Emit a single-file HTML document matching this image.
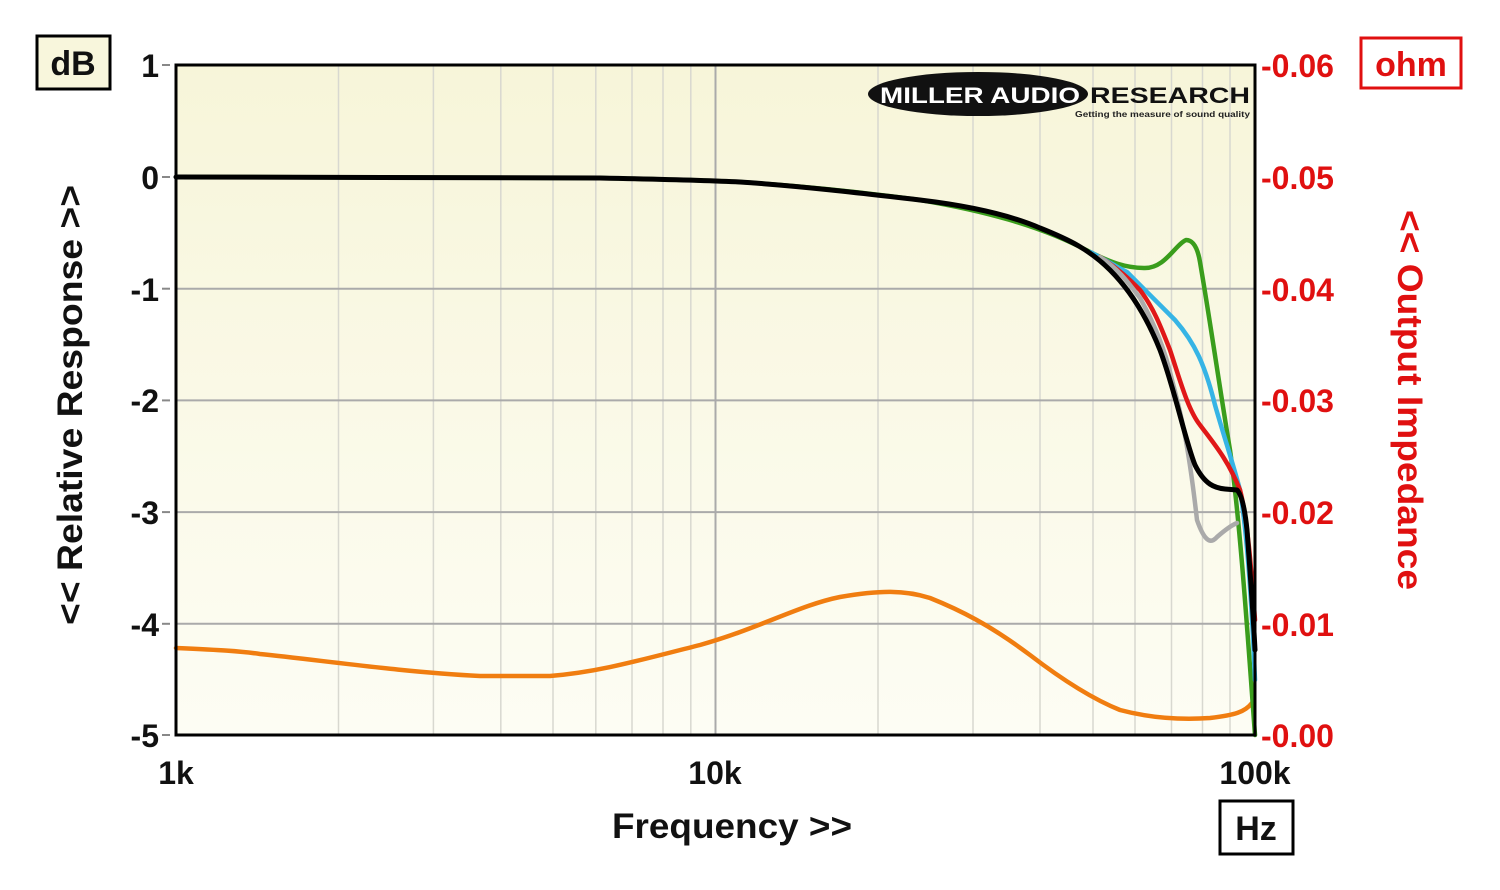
<!DOCTYPE html>
<html><head><meta charset="utf-8"><style>
html,body{margin:0;padding:0;background:#fff;width:1500px;height:890px;overflow:hidden}
svg{display:block}
text{font-family:"Liberation Sans",sans-serif;font-weight:bold}
</style></head><body>
<svg width="1500" height="890" viewBox="0 0 1500 890" xmlns="http://www.w3.org/2000/svg">
<defs>
<linearGradient id="bg" x1="0" y1="0" x2="0" y2="1">
<stop offset="0" stop-color="#f7f5d9"/><stop offset="1" stop-color="#fdfdf4"/>
</linearGradient>
</defs>
<rect x="176" y="65" width="1079" height="670" fill="url(#bg)"/>
<g stroke="#d8d8d0" stroke-width="1.5">
<line x1="338.5" y1="65" x2="338.5" y2="735"/><line x1="433.4" y1="65" x2="433.4" y2="735"/>
<line x1="500.8" y1="65" x2="500.8" y2="735"/><line x1="553" y1="65" x2="553" y2="735"/>
<line x1="595.8" y1="65" x2="595.8" y2="735"/><line x1="632" y1="65" x2="632" y2="735"/>
<line x1="663" y1="65" x2="663" y2="735"/><line x1="690.8" y1="65" x2="690.8" y2="735"/>
<line x1="878" y1="65" x2="878" y2="735"/><line x1="973" y1="65" x2="973" y2="735"/>
<line x1="1040" y1="65" x2="1040" y2="735"/><line x1="1093" y1="65" x2="1093" y2="735"/>
<line x1="1135" y1="65" x2="1135" y2="735"/><line x1="1171.5" y1="65" x2="1171.5" y2="735"/>
<line x1="1202.5" y1="65" x2="1202.5" y2="735"/><line x1="1230" y1="65" x2="1230" y2="735"/>
</g>
<g stroke="#aaa" stroke-width="2">
<line x1="715.5" y1="65" x2="715.5" y2="735"/>
<line x1="176" y1="288.7" x2="1255" y2="288.7"/><line x1="176" y1="400.4" x2="1255" y2="400.4"/>
<line x1="176" y1="512.1" x2="1255" y2="512.1"/><line x1="176" y1="623.8" x2="1255" y2="623.8"/>
</g>
<!-- logo -->
<ellipse cx="978" cy="94" rx="110" ry="22" fill="#111"/>
<text x="880" y="103" font-size="22" fill="#fff" textLength="200" lengthAdjust="spacingAndGlyphs">MILLER AUDIO</text>
<text x="1090" y="103" font-size="22" fill="#111" textLength="160" lengthAdjust="spacingAndGlyphs">RESEARCH</text>
<text x="1075" y="117" font-size="8" fill="#222" textLength="175" lengthAdjust="spacingAndGlyphs">Getting the measure of sound quality</text>
<!-- curves -->
<g fill="none" stroke-linejoin="round" stroke-linecap="round">
<path d="M176,648 C220,650 240,651 260,654 C320,660 400,672 480,676 L550,676 C600,672 640,660 700,645 C760,628 800,605 840,597 C880,590 905,590 930,598 C960,610 990,625 1030,655 C1060,678 1090,698 1120,710 C1150,718 1180,720 1210,718 C1235,715 1245,712 1252,703" stroke="#f07d10" stroke-width="4.5"/>
<path d="M176,177 L600,178 C650,179 700,180 740,182 C800,186 860,192 920,200 C980,210 1040,225 1090,252 C1110,262 1125,268 1145,268 C1165,268 1175,245 1186,240 C1194,240 1198,250 1200,262 C1210,320 1220,390 1230,450 C1240,520 1248,640 1255,735" stroke="#3a9d1c" stroke-width="4.5"/>
<path d="M1090,252 C1110,262 1118,268 1127,272 C1145,290 1160,305 1175,320 C1195,343 1205,365 1215,405 C1225,440 1232,460 1240,490 C1248,540 1252,610 1255,680" stroke="#36b4e5" stroke-width="4.5"/>
<path d="M1100,257 C1120,270 1130,280 1140,290 C1155,310 1162,330 1170,350 C1180,380 1188,410 1200,425 C1215,445 1228,460 1240,490 C1248,520 1252,580 1255,620" stroke="#e01818" stroke-width="4.5"/>
<path d="M1100,257 C1120,270 1130,285 1140,298 C1155,325 1165,350 1172,380 C1180,410 1188,440 1197,520 C1204,540 1210,545 1217,537 C1225,530 1232,525 1237,523" stroke="#aaa" stroke-width="4.5"/>
<path d="M176,177 L600,178 C650,179 700,180 740,182 C800,186 860,193 920,200 C970,206 1010,215 1040,228 C1070,240 1090,250 1110,270 C1135,295 1150,325 1160,350 C1175,390 1185,440 1195,465 C1205,485 1215,488 1225,489 L1237,490 C1242,495 1245,510 1247,530 C1250,570 1253,610 1255,650" stroke="#000" stroke-width="5"/>
</g>
<rect x="176" y="65" width="1079" height="670" fill="none" stroke="#000" stroke-width="3"/>
<!-- ticks -->
<g stroke="#888" stroke-width="2">
<line x1="162" y1="65" x2="170" y2="65"/><line x1="162" y1="177" x2="170" y2="177"/>
<line x1="162" y1="288.7" x2="170" y2="288.7"/><line x1="162" y1="400.4" x2="170" y2="400.4"/>
<line x1="162" y1="512.1" x2="170" y2="512.1"/><line x1="162" y1="623.8" x2="170" y2="623.8"/>
<line x1="162" y1="735" x2="170" y2="735"/>
</g>
<g font-size="32" fill="#111" text-anchor="end">
<text x="159" y="77">1</text><text x="159" y="189">0</text><text x="159" y="301">-1</text>
<text x="159" y="412">-2</text><text x="159" y="524">-3</text><text x="159" y="636">-4</text><text x="159" y="747">-5</text>
</g>
<g font-size="32" fill="#e01010">
<text x="1261" y="77">-0.06</text><text x="1261" y="189">-0.05</text><text x="1261" y="301">-0.04</text>
<text x="1261" y="412">-0.03</text><text x="1261" y="524">-0.02</text><text x="1261" y="636">-0.01</text><text x="1261" y="747">-0.00</text>
</g>
<g font-size="32" fill="#111" text-anchor="middle">
<text x="176" y="784">1k</text><text x="715" y="784">10k</text><text x="1255" y="784">100k</text>
</g>
<text x="732" y="838" font-size="35" fill="#111" text-anchor="middle" textLength="240" lengthAdjust="spacingAndGlyphs">Frequency &gt;&gt;</text>
<text transform="translate(82,405) rotate(-90)" font-size="35" fill="#111" text-anchor="middle" textLength="440" lengthAdjust="spacingAndGlyphs">&lt;&lt; Relative Response &gt;&gt;</text>
<text transform="translate(1398,400) rotate(90)" font-size="35" fill="#e01010" text-anchor="middle" textLength="380" lengthAdjust="spacingAndGlyphs">&lt;&lt; Output Impedance</text>
<rect x="37" y="36" width="73" height="53" fill="#f8f6dc" stroke="#000" stroke-width="3"/>
<text x="73" y="75" font-size="34" fill="#111" text-anchor="middle">dB</text>
<rect x="1361" y="38" width="100" height="50" fill="#fff" stroke="#e01010" stroke-width="3"/>
<text x="1411" y="76" font-size="34" fill="#e01010" text-anchor="middle">ohm</text>
<rect x="1220" y="801" width="73" height="53" fill="#fff" stroke="#000" stroke-width="3"/>
<text x="1256" y="840" font-size="34" fill="#111" text-anchor="middle">Hz</text>
</svg>
</body></html>
